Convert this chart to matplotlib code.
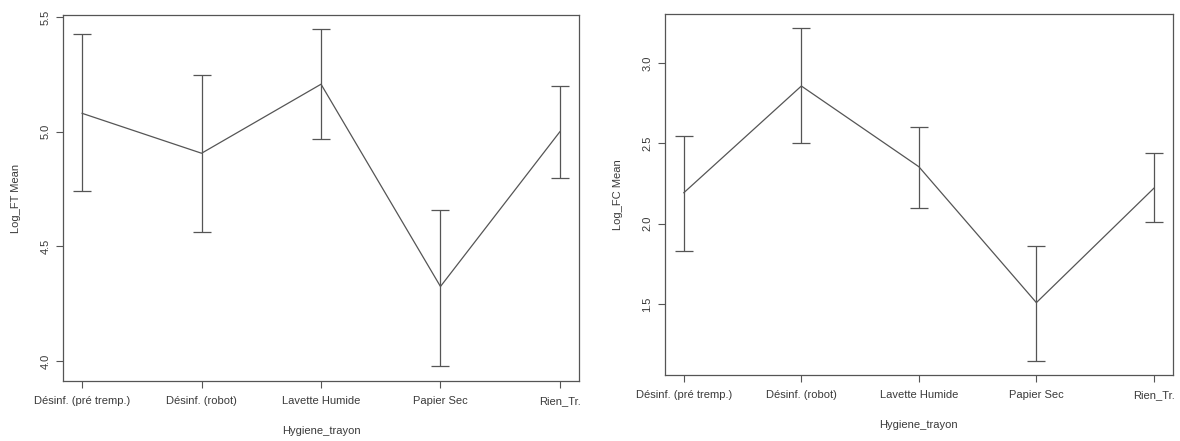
import matplotlib
matplotlib.use("Agg")
import matplotlib.pyplot as plt
import numpy as np

plt.rcParams['font.family'] = ['Liberation Sans', 'DejaVu Sans']

categories = ["Désinf. (pré tremp.)", "Désinf. (robot)", "Lavette Humide", "Papier Sec", "Rien_Tr."]

ft_mean = [5.08, 4.906, 5.207, 4.325, 5.0]
ft_upper = [5.425, 5.245, 5.448, 4.657, 5.201]
ft_lower = [4.74, 4.564, 4.970, 3.977, 4.797]

fc_mean = [2.193, 2.858, 2.355, 1.508, 2.221]
fc_upper = [2.546, 3.217, 2.601, 1.859, 2.44]
fc_lower = [1.828, 2.505, 2.096, 1.145, 2.011]

ft_ticks = [4.0, 4.5, 5.0, 5.5]
fc_ticks = [1.5, 2.0, 2.5, 3.0]

TEXT = '#3a3a3a'
LINE = '#555555'

fig = plt.figure(figsize=(11.8, 4.41), dpi=100)
ax1 = fig.add_axes([0.0534, 0.1361, 0.4373, 0.830])
ax2 = fig.add_axes([0.5636, 0.1497, 0.4302, 0.8186])

def draw(ax, mean, upper, lower, ticks, ylim, ylabel):
    x = np.arange(1, len(categories) + 1)
    m = np.array(mean)
    yerr = [m - np.array(lower), np.array(upper) - m]
    ax.errorbar(x, m, yerr=yerr, color=LINE, lw=0.9, capsize=6.8, capthick=0.9,
                elinewidth=0.9)
    ax.set_xlim(0.84, 5.16)
    ax.set_ylim(*ylim)
    ax.set_xticks(x)
    ax.set_xticklabels(categories, fontsize=8, color=TEXT)
    ax.set_yticks(ticks)
    ax.set_yticklabels([f"{t:.1f}" for t in ticks], fontsize=8, color=TEXT,
                       rotation=90, va='center')
    ax.tick_params(direction='out', length=5, width=0.8, color=LINE, pad=6)
    ax.tick_params(axis='y', pad=4)
    for s in ax.spines.values():
        s.set_color(LINE)
        s.set_linewidth(0.9)
    ax.set_xlabel("Hygiene_trayon", fontsize=8, color=TEXT, labelpad=14)
    ax.set_ylabel(ylabel, fontsize=8, color=TEXT, labelpad=14)

draw(ax1, ft_mean, ft_upper, ft_lower, ft_ticks, (3.913, 5.509), "Log_FT Mean")
draw(ax2, fc_mean, fc_upper, fc_lower, fc_ticks, (1.057, 3.307), "Log_FC Mean")

fig.savefig("out.png", dpi=100)
